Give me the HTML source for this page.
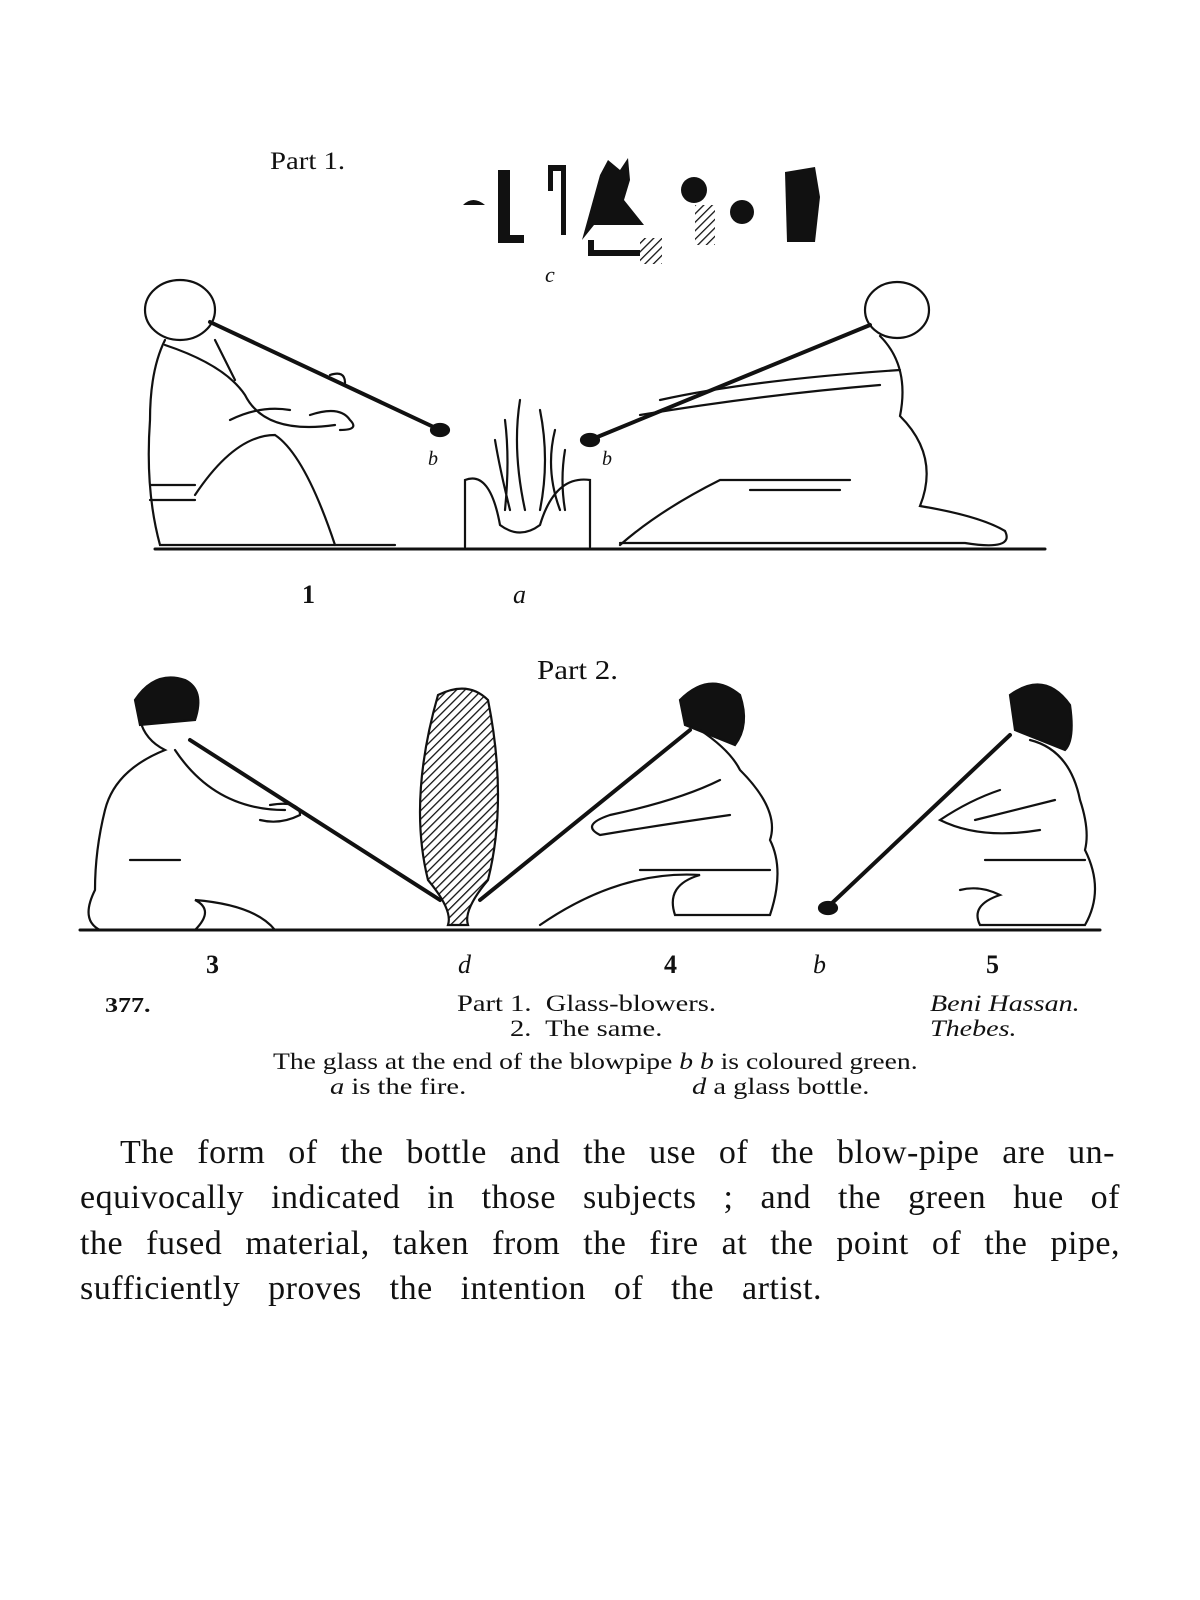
<!DOCTYPE html>
<html><head><meta charset="utf-8"><style>
html,body{margin:0;padding:0;background:#fff;}
body{width:1200px;height:1600px;position:relative;overflow:hidden;font-family:"Liberation Serif",serif;color:#111;}
.t{position:absolute;white-space:nowrap;}
.c{position:absolute;white-space:nowrap;font-size:23px;transform-origin:0 0;transform:scaleX(1.24);}
svg{position:absolute;left:0;top:0;}
.p{position:absolute;left:80px;width:1040px;font-size:34px;letter-spacing:0.5px;line-height:45.5px;text-align:justify;text-align-last:justify;white-space:nowrap;}
</style></head><body>
<svg width="1200" height="1600" viewBox="0 0 1200 1600">
<defs>
<pattern id="h" width="6" height="6" patternUnits="userSpaceOnUse" patternTransform="rotate(45)"><rect width="6" height="6" fill="#fff"/><line x1="0" y1="0" x2="0" y2="6" stroke="#111" stroke-width="2.6"/></pattern>
</defs>
<g fill="none" stroke="#111" stroke-width="2.2" stroke-linecap="round">
<line x1="155" y1="549" x2="1045" y2="549" stroke-width="3"/>
<g fill="#111" stroke="none">
<path d="M463 205 q10-10 22 0z"/><rect x="498" y="170" width="12" height="70"/><rect x="498" y="235" width="26" height="8"/>
<path d="M548 165 h18 v70 h-5 v-64 h-8 v20 h-5z"/>
<path d="M600 175 l8 -15 l12 10 l8-12 l2 22 l-6 20 l20 25 h-50 l-12 15 z"/>
<path d="M588 240 h6 v10 h50 v6 h-56z"/>
<circle cx="694" cy="190" r="13"/><circle cx="742" cy="212" r="12"/>
<path d="M785 172 l30 -5 l5 30 l-5 45 h-28z"/>
</g>
<rect x="640" y="238" width="22" height="26" fill="url(#h)" stroke="none"/>
<rect x="695" y="205" width="20" height="40" fill="url(#h)" stroke="none"/>
<path d="M465 547 V480 q25-10 35 45 q20 15 40 0 q15-50 50-45 V547"/>
<path d="M505 420 q5 40 0 90 M520 400 q-8 50 5 110 M540 410 q10 50 0 100 M555 430 q-10 40 5 80 M495 440 q5 30 15 70 M565 450 q-5 30 0 60"/>
<ellipse cx="180" cy="310" rx="35" ry="30"/>
<path d="M165 340 q-15 30 -15 80 q-5 70 10 125 h235 M165 345 q60 20 80 50 q20 40 90 30 M215 340 q10 20 20 40 M150 500 h45 M150 485 h45"/>
<path d="M195 495 q40-60 80-60 q30 20 60 110 M230 420 q30 -15 60 -10"/>
<line x1="210" y1="322" x2="440" y2="430" stroke-width="4"/>
<ellipse cx="440" cy="430" rx="9" ry="6" fill="#111"/>
<path d="M310 415 q30-10 40 5 q10 10 -10 10 M330 375 q15 -5 15 8"/>
<ellipse cx="897" cy="310" rx="32" ry="28"/>
<path d="M880 336 q30 30 20 80 q40 40 20 90 q60 10 85 25 q10 20 -40 12 H620 M900 370 q-150 10 -240 30 M640 415 q120 -20 240 -30 M850 480 h-130 q-60 30 -100 65 M840 490 h-90"/>
<line x1="870" y1="325" x2="590" y2="440" stroke-width="4"/>
<ellipse cx="590" cy="440" rx="9" ry="6" fill="#111"/>
<line x1="80" y1="930" x2="1100" y2="930" stroke-width="3"/>
<path d="M438 695 q30-15 50 5 q20 100 0 180 q-25 30 -20 45 h-20 q5-15 -20 -45 q-20 -80 10 -185z" fill="url(#h)"/>
<path d="M135 700 q20-30 50-20 q20 10 10 40 l-55 5z" fill="#111"/>
<path d="M140 720 q5 20 25 30 q-50 20 -60 60 q-10 40 -10 80 q-15 30 5 40 h95 q20-20 0-30 q60 5 80 30 h60 M175 750 q40 60 110 60 M130 860 h50"/>
<line x1="190" y1="740" x2="440" y2="900" stroke-width="4"/>
<path d="M270 805 q30 -5 30 10 q-20 10 -40 5"/>
<path d="M680 700 q30-30 60-5 q10 30 -5 50 l-50 -20z" fill="#111"/>
<path d="M700 730 q30 20 40 40 q40 40 30 70 q15 30 0 75 h-95 q-10 -30 25 -40 q-80 -5 -160 50 M720 780 q-40 20 -110 35 q-30 10 -10 20 q60 -10 130 -20 M640 870 h130"/>
<line x1="690" y1="730" x2="480" y2="900" stroke-width="4"/>
<path d="M1010 695 q35-25 60 10 q5 35 -5 45 l-50 -20z" fill="#111"/>
<path d="M1030 740 q40 10 50 60 q10 30 5 50 q20 40 0 75 h-105 q-10 -20 20 -30 q-20 -10 -40 -5 M1000 790 q-30 10 -60 30 q40 20 100 10 M975 820 q40 -10 80 -20 M985 860 h100"/>
<line x1="1010" y1="735" x2="830" y2="905" stroke-width="4"/>
<ellipse cx="828" cy="908" rx="9" ry="6" fill="#111"/>
</g>
</svg>
<div class="t" style="left:270px;top:148px;font-size:25px;transform:scaleX(1.15);transform-origin:0 0;">Part 1.</div>
<div class="t" style="left:545px;top:262px;font-size:22px;font-style:italic;">c</div>
<div class="t" style="left:428px;top:448px;font-size:20px;font-style:italic;">b</div>
<div class="t" style="left:602px;top:448px;font-size:20px;font-style:italic;">b</div>
<div class="t" style="left:302px;top:580px;font-size:26px;font-weight:bold;">1</div>
<div class="t" style="left:513px;top:580px;font-size:26px;font-style:italic;">a</div>
<div class="t" style="left:537px;top:655px;font-size:27px;transform:scaleX(1.15);transform-origin:0 0;">Part 2.</div>
<div class="t" style="left:206px;top:950px;font-size:26px;font-weight:bold;">3</div>
<div class="t" style="left:458px;top:950px;font-size:26px;font-style:italic;">d</div>
<div class="t" style="left:664px;top:950px;font-size:26px;font-weight:bold;">4</div>
<div class="t" style="left:813px;top:950px;font-size:26px;font-style:italic;">b</div>
<div class="t" style="left:986px;top:950px;font-size:26px;font-weight:bold;">5</div>
<div class="c" style="left:105px;top:993px;font-weight:bold;font-size:21px;">377.</div>
<div class="c" style="left:457px;top:991px;">Part 1.&nbsp; Glass-blowers.</div>
<div class="c" style="left:510px;top:1016px;">2.&nbsp; The same.</div>
<div class="c" style="left:930px;top:991px;font-style:italic;transform:scaleX(1.22);">Beni Hassan.</div>
<div class="c" style="left:930px;top:1016px;font-style:italic;transform:scaleX(1.22);">Thebes.</div>
<div class="c" style="left:273px;top:1049px;transform:scaleX(1.2);">The glass at the end of the blowpipe <i>b b</i> is coloured green.</div>
<div class="c" style="left:330px;top:1074px;"><i>a</i> is the fire.</div>
<div class="c" style="left:692px;top:1074px;"><i>d</i> a glass bottle.</div>
<div class="p" style="top:1130px;left:120px;width:995px;">The form of the bottle and the use of the blow-pipe are un-</div>
<div class="p" style="top:1175px;">equivocally indicated in those subjects ; and the green hue of</div>
<div class="p" style="top:1221px;">the fused material, taken from the fire at the point of the pipe,</div>
<div class="p" style="top:1266px;width:742px;">sufficiently proves the intention of the artist.</div>
</body></html>
